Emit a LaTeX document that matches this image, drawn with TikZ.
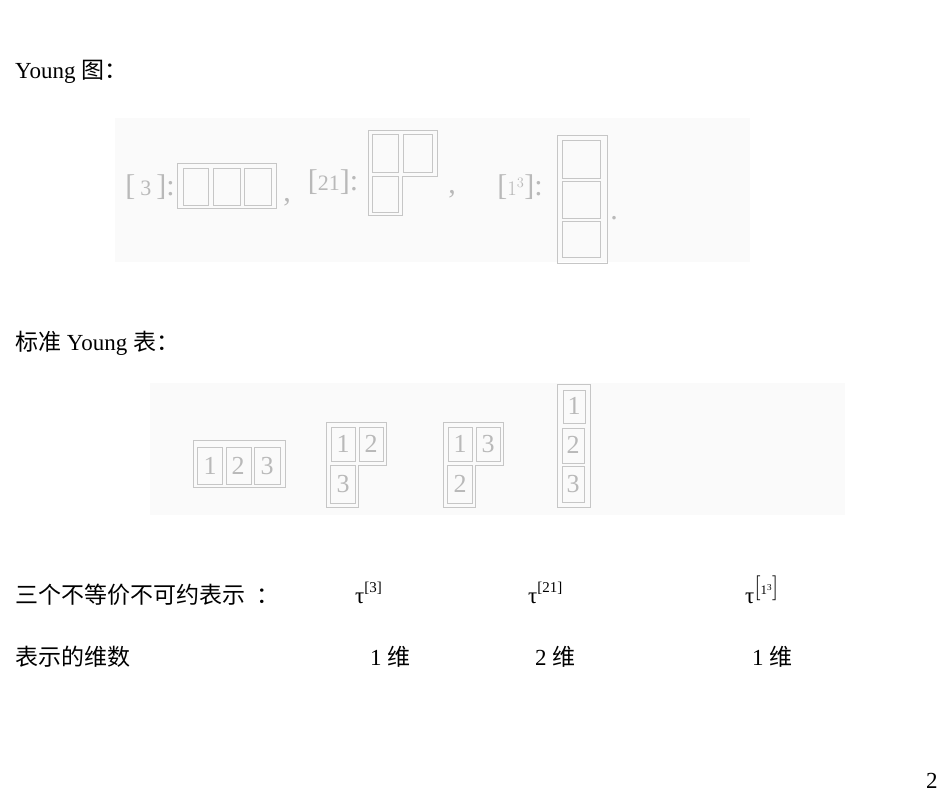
\documentclass[tikz,border=0pt]{standalone}
\usepackage{fontspec}
\setmainfont{Liberation Serif}
\newfontfamily\cjk{Noto Sans CJK SC}
\begin{document}
\begin{tikzpicture}[x=1pt,y=-1pt,
  txt/.style={anchor=base west,inner sep=0pt,font=\fontsize{23}{26}\selectfont},
  faint/.style={draw=gray!45,line width=0.8pt},
  cellnum/.style={text=gray!55,font=\fontsize{26}{28}\selectfont,inner sep=0pt},
  lab/.style={text=gray!55,font=\fontsize{30}{32}\selectfont,inner sep=0pt},
  bg/.style={fill=gray!4,draw=none}]
\useasboundingbox (0,0) rectangle (950,800);
\fill[white] (0,0) rectangle (950,800);
\node[txt] (t1) at (15,78) {Young {\cjk 图：}};
\fill[bg] (115,118) rectangle (750,262);
% [3]
\node[lab] (l3) at (150,187) {[\,{\fontsize{22}{24}\selectfont3}\,]:};
\draw[faint] (177,163) rectangle (276,208);
\draw[faint] (183,168) rectangle (208,205) (213,168) rectangle (240,205) (244,168) rectangle (271,205);
\node[lab] (c1) at (287,202) {,};
% [21]
\node[lab] (l21) at (333,182) {[{\fontsize{22}{24}\selectfont21}]:};
\draw[faint] (368,130) -- (437,130) -- (437,176) -- (402,176) -- (402,215) -- (368,215) -- cycle;
\draw[faint] (372,134) rectangle (398,172) (403,134) rectangle (432,172) (372,176) rectangle (398,212);
\node[lab] (c2) at (452,194) {,};
% [1^3]
\node[lab] (l13) at (520,187) {[{\fontsize{22}{24}\selectfont$1^3$}]:};
\draw[faint] (557,135) rectangle (607,263);
\draw[faint] (562,140) rectangle (600,178) (562,181) rectangle (600,218) (562,221) rectangle (600,257);
\node[lab] (c3) at (614,218) {.};
\node[txt] (t2) at (15,350) {{\cjk 标准} Young {\cjk 表：}};
\fill[bg] (150,383) rectangle (845,515);
% tableau 1
\draw[faint] (193,440) rectangle (285,487);
\draw[faint] (197,447) rectangle (222,484) (226,447) rectangle (251,484) (254,447) rectangle (280,484);
\node[cellnum] (a1) at (210,466) {1};
\node[cellnum] (a2) at (238,466) {2};
\node[cellnum] (a3) at (267,466) {3};
% tableau 2
\draw[faint] (326,422) -- (386,422) -- (386,465) -- (358,465) -- (358,507) -- (326,507) -- cycle;
\draw[faint] (331,427) rectangle (355,461) (359,427) rectangle (383,461) (330,465) rectangle (355,503);
\node[cellnum] (b1) at (343,444) {1};
\node[cellnum] (b2) at (371,444) {2};
\node[cellnum] (b3) at (343,484) {3};
% tableau 3
\draw[faint] (443,422) -- (503,422) -- (503,465) -- (475,465) -- (475,507) -- (443,507) -- cycle;
\draw[faint] (448,427) rectangle (472,461) (476,427) rectangle (500,461) (447,465) rectangle (472,503);
\node[cellnum] (d1) at (460,444) {1};
\node[cellnum] (d2) at (488,444) {3};
\node[cellnum] (d3) at (460,484) {2};
% tableau 4
\draw[faint] (557,384) rectangle (590,507);
\draw[faint] (563,390) rectangle (585,423) (562,428) rectangle (584,463) (562,466) rectangle (584,502);
\node[cellnum] (e1) at (574,406) {1};
\node[cellnum] (e2) at (573,445) {2};
\node[cellnum] (e3) at (573,484) {3};
% rows
\node[txt] (r1) at (15,603) {\cjk 三个不等价不可约表示\enspace ：};
\node[txt] (r1a) at (355,603) {τ\raisebox{1.0ex}{\fontsize{15}{16}\selectfont[3]}};
\node[txt] (r1b) at (528,603) {τ\raisebox{1.0ex}{\fontsize{15}{16}\selectfont[21]}};
\node[txt] (r1c) at (745,603) {τ\raisebox{0.8ex}{$\left[\mbox{\fontsize{13}{14}\selectfont1\textsuperscript{3}}\right]$}};
\node[txt] (r2) at (15,665) {\cjk 表示的维数};
\node[txt] (r2a) at (370,665) {1 {\cjk 维}};
\node[txt] (r2b) at (535,665) {2 {\cjk 维}};
\node[txt] (r2c) at (752,665) {1 {\cjk 维}};
\node[txt] (pg) at (926,788) {2};
\end{tikzpicture}
\end{document}
